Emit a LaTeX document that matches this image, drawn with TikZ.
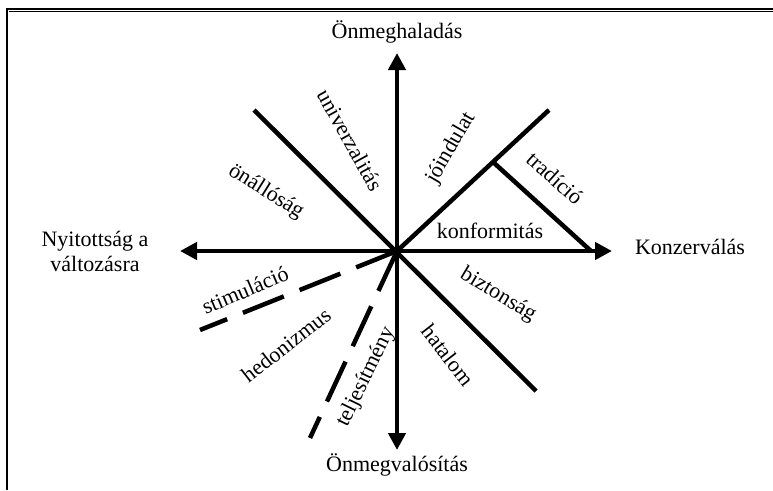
\documentclass[tikz,border=0pt]{standalone}
\usepackage{fontspec}
\setmainfont{Liberation Serif}
\usetikzlibrary{arrows.meta}
\definecolor{shade}{RGB}{214,228,222}
\tikzset{
  axis/.style={line width=4.5pt,-{Triangle[length=17pt,width=17pt]}},
  sep/.style={line width=4.5pt},
  dsep/.style={line width=4.5pt,dash pattern=on 44pt off 17pt},
  lbl/.style={font=\fontsize{22}{25}\selectfont,inner sep=0pt},
}
\begin{document}
\begin{tikzpicture}[x=1pt,y=-1pt]
\useasboundingbox (0,0) rectangle (773,490);
\fill[white] (0,0) rectangle (773,490);
% frame
\draw[shade,line width=1.5pt] (9,11.5) -- (773,11.5);
\draw[line width=1.6pt] (7,490) -- (7,9) -- (773,9);
% key points
\coordinate (O) at (397,251);
\coordinate (T) at (397,53);
\coordinate (B) at (397,450);
\coordinate (L) at (180,251);
\coordinate (R) at (612,251);
\coordinate (NW) at (254,110);
\coordinate (SE) at (536,391);
\coordinate (NE) at (549,110);
\coordinate (TJ) at (493,162);
\coordinate (TR) at (591,251);
\coordinate (DS) at (200,330);
\coordinate (DT) at (310,438);
% axes
\draw[axis] (O) -- (T);
\draw[axis] (O) -- (B);
\draw[axis] (O) -- (L);
\draw[axis] (O) -- (R);
% separators
\draw[sep] (NW) -- (SE);
\draw[sep] (O) -- (NE);
\draw[sep] (TJ) -- (TR);
\draw[dsep] (O) -- (DS);
\draw[dsep] (O) -- (DT);
% axis labels
\node[lbl,anchor=base] (top) at (397,38) {Önmeghaladás};
\node[lbl,anchor=base] (bot) at (397,471) {Önmegvalósítás};
\node[lbl,anchor=base] (rgt) at (690,254) {Konzerválás};
\node[lbl,align=center] (lft) at (95,251) {Nyitottság a\\változásra};
% value labels
\node[lbl,rotate=-61] (univ) at (350,140) {univerzalitás};
\node[lbl,rotate=60] (joi) at (451,148) {jóindulat};
\node[lbl,rotate=-32] (onal) at (266,192) {önállóság};
\node[lbl,rotate=-42] (trad) at (555,178) {tradíció};
\node[lbl,anchor=base] (konf) at (490,238) {konformitás};
\node[lbl,rotate=23] (stim) at (245,290) {stimuláció};
\node[lbl,rotate=-31] (bizt) at (498,295) {biztonság};
\node[lbl,rotate=38] (hed) at (286,345) {hedonizmus};
\node[lbl,rotate=64] (telj) at (366,377) {teljesítmény};
\node[lbl,rotate=-52] (hat) at (448,355) {hatalom};
\end{tikzpicture}
\end{document}
